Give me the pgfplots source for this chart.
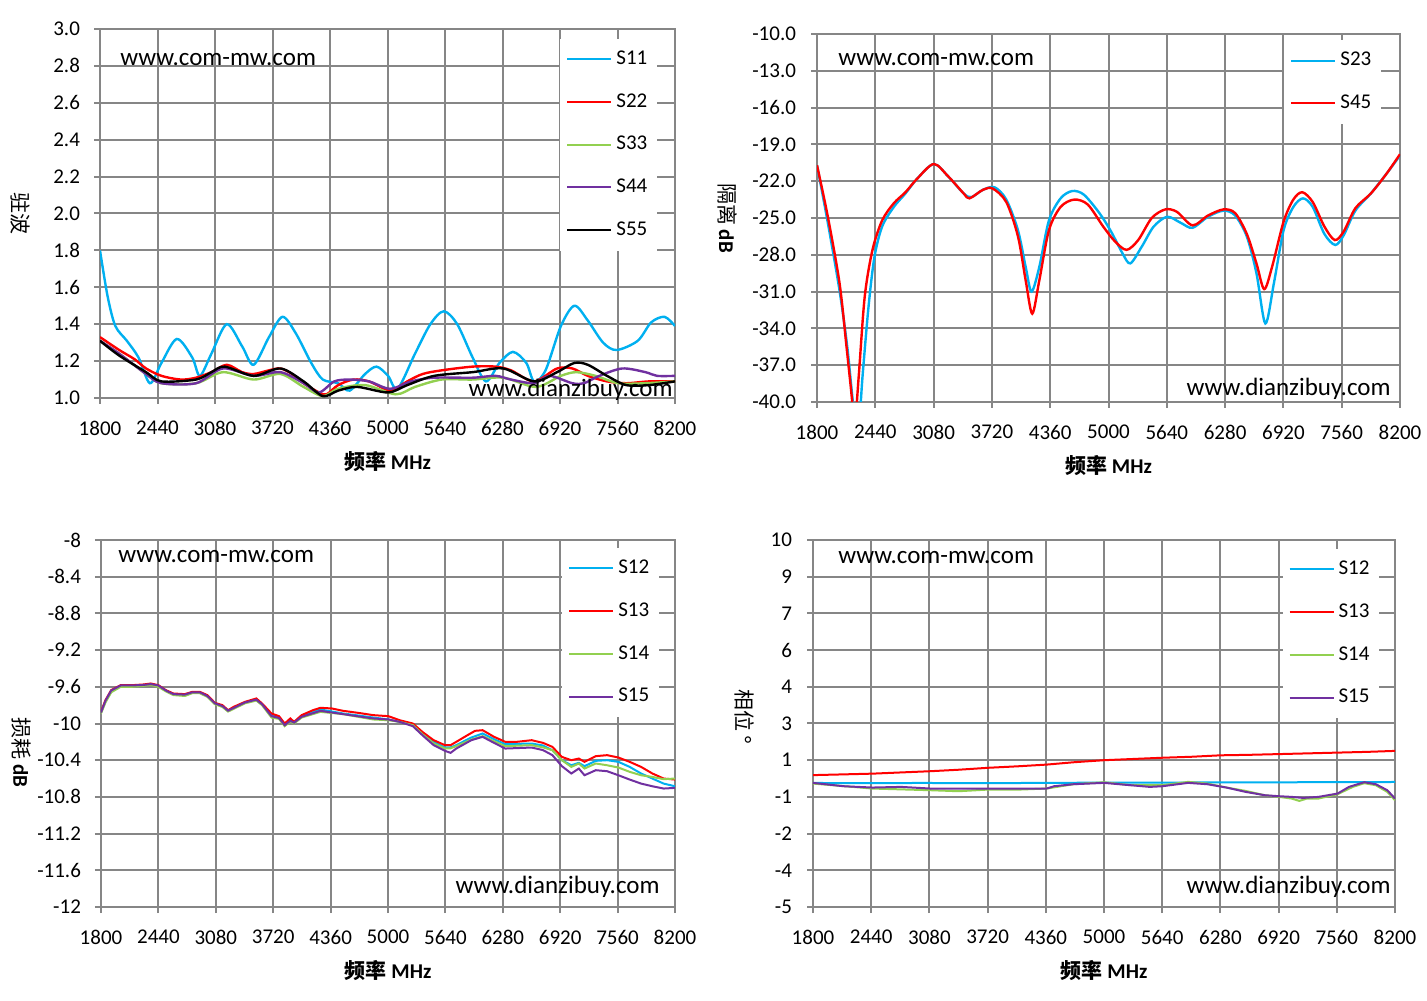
\documentclass[border=0pt]{standalone}
\usepackage{pgfplots}
\pgfplotsset{compat=1.18}
\usepackage{fontspec}
\setmainfont{Carlito}
\newfontfamily\cjk{Noto Sans CJK SC}
\definecolor{cblue}{HTML}{00B0F0}
\definecolor{cred}{HTML}{FF0000}
\definecolor{cgreen}{HTML}{92D050}
\definecolor{cpurple}{HTML}{7030A0}
\definecolor{gridgray}{HTML}{868686}
\newcommand{\tfont}{\fontsize{10.5}{12}\selectfont}
\newcommand{\wfont}{\fontsize{12.5}{14}\selectfont}
\pgfplotsset{
  base/.style={
    scale only axis, anchor=south west,
    xmin=1800, xmax=8200,
    xtick={1800,2440,3080,3720,4360,5000,5640,6280,6920,7560,8200},
    xticklabels={1800,2440,3080,3720,4360,5000,5640,6280,6920,7560,8200},
    grid=major,
    major grid style={draw=gridgray, line width=1pt},
    axis line style={draw=gridgray, line width=1pt},
    every tick/.style={draw=gridgray, line width=1pt},
    tick align=outside, major tick length=3pt,
    xtick pos=left, ytick pos=left,
    ticklabel style={font=\tfont, text=black},
    xticklabel style={yshift=-5pt},
    yticklabel style={xshift=-3.5pt},
    legend style={draw=none, fill=white, font=\tfont, anchor=north west, row sep=9.1pt, inner xsep=3pt, inner ysep=4pt},
    legend cell align=left,
    legend image code/.code={\draw[##1, line width=1pt] (0pt,0pt) -- (22pt,0pt);},
    xlabel={{\cjk\bfseries 频率} \textbf{MHz}},
    xlabel style={font=\tfont, at={(axis description cs:0.5,-0.173)}, anchor=center},
    ylabel style={font=\tfont, rotate=180, anchor=center},
  },
}
\begin{document}
\begin{tikzpicture}
\useasboundingbox (0,0) rectangle (713.5pt,500pt);
% ---------------- top left: VSWR
\begin{axis}[base, at={(50pt,301pt)}, width=287.5pt, height=184.5pt,
  ymin=1, ymax=3, ytick={1,1.2,...,3.01},
  yticklabels={1.0,1.2,1.4,1.6,1.8,2.0,2.2,2.4,2.6,2.8,3.0},
  ylabel={{\cjk 驻波}},
  ylabel style={at={(axis description cs:-0.139,0.5)}},
  legend style={at={(axis description cs:0.80,0.975)}},
  every axis plot/.append style={line width=1.2pt, smooth, tension=0.5}]
\addplot[cblue] coordinates {(1800,1.80)(1885,1.55)(1971,1.39)(2099,1.31)(2228,1.22)(2356,1.08)(2484,1.19)(2655,1.32)(2826,1.22)(2912,1.12)(3040,1.24)(3211,1.40)(3382,1.28)(3510,1.18)(3681,1.33)(3831,1.44)(3980,1.35)(4151,1.19)(4280,1.10)(4450,1.08)(4579,1.04)(4750,1.13)(4878,1.17)(5006,1.12)(5113,1.05)(5306,1.24)(5477,1.40)(5626,1.47)(5776,1.40)(5947,1.22)(6096,1.09)(6246,1.19)(6396,1.25)(6545,1.19)(6631,1.09)(6759,1.15)(6930,1.39)(7080,1.50)(7229,1.42)(7400,1.30)(7550,1.26)(7785,1.31)(7935,1.41)(8084,1.44)(8200,1.39)};
\addlegendentry{S11}
\addplot[cred] coordinates {(1800,1.33)(2014,1.26)(2185,1.21)(2313,1.16)(2484,1.12)(2698,1.10)(2869,1.11)(3040,1.14)(3211,1.18)(3382,1.14)(3510,1.13)(3681,1.15)(3809,1.16)(3938,1.13)(4066,1.08)(4237,1.03)(4322,1.02)(4451,1.07)(4622,1.10)(4793,1.09)(4964,1.05)(5049,1.04)(5220,1.09)(5391,1.13)(5605,1.15)(5947,1.17)(6203,1.17)(6374,1.15)(6631,1.09)(6887,1.16)(7058,1.16)(7229,1.12)(7443,1.09)(7657,1.08)(7913,1.09)(8200,1.09)};
\addlegendentry{S22}
\addplot[cgreen] coordinates {(1800,1.31)(2014,1.24)(2313,1.13)(2484,1.08)(2869,1.08)(3168,1.14)(3510,1.10)(3809,1.13)(4066,1.06)(4280,1.01)(4451,1.05)(4750,1.07)(5092,1.02)(5306,1.06)(5605,1.10)(5947,1.10)(6289,1.11)(6652,1.06)(6930,1.12)(7101,1.14)(7315,1.12)(7571,1.08)(7871,1.08)(8200,1.09)};
\addlegendentry{S33}
\addplot[cpurple] coordinates {(1800,1.31)(2014,1.24)(2313,1.13)(2484,1.08)(2869,1.08)(3168,1.16)(3510,1.12)(3809,1.14)(4066,1.08)(4237,1.03)(4408,1.09)(4579,1.10)(4793,1.09)(5028,1.05)(5263,1.09)(5519,1.11)(5947,1.11)(6203,1.12)(6374,1.10)(6631,1.08)(6802,1.12)(7058,1.08)(7187,1.08)(7358,1.12)(7614,1.16)(7871,1.14)(7999,1.12)(8200,1.12)};
\addlegendentry{S44}
\addplot[black] coordinates {(1800,1.31)(2014,1.23)(2313,1.14)(2484,1.09)(2869,1.10)(3040,1.14)(3189,1.17)(3510,1.12)(3809,1.16)(4066,1.09)(4280,1.01)(4451,1.04)(4664,1.06)(5006,1.03)(5220,1.07)(5519,1.12)(5947,1.14)(6289,1.16)(6631,1.09)(6887,1.14)(7080,1.19)(7229,1.18)(7443,1.12)(7657,1.07)(7913,1.07)(8200,1.09)};
\addlegendentry{S55}
\end{axis}
% ---------------- top right: isolation
\begin{axis}[base, at={(408.5pt,299pt)}, width=291.5pt, height=184pt,
  ymin=-40, ymax=-10, ytick={-40,-37,...,-10},
  yticklabels={-40.0,-37.0,-34.0,-31.0,-28.0,-25.0,-22.0,-19.0,-16.0,-13.0,-10.0},
  yticklabel style={xshift=-0.5pt},
  ylabel={{\cjk 隔离} \textbf{dB}},
  ylabel style={at={(axis description cs:-0.154,0.5)}},
  legend style={at={(axis description cs:0.801,0.984)}},
  every axis plot/.append style={line width=1.2pt, smooth, tension=0.5}]
\addplot[cblue] coordinates {(1800,-20.7)(1919,-25.4)(2047,-30.9)(2132,-35.5)(2196,-40.1)(2251,-42.5)(2302,-37.7)(2366,-32.2)(2430,-28.2)(2515,-25.7)(2643,-24.1)(2771,-23.0)(2899,-21.8)(3082,-20.6)(3239,-21.6)(3410,-23.0)(3495,-23.3)(3622,-22.7)(3750,-22.5)(3878,-23.5)(4006,-26.0)(4091,-29.0)(4155,-31.0)(4240,-29.0)(4346,-25.2)(4474,-23.4)(4602,-22.8)(4730,-23.1)(4900,-24.6)(5028,-26.1)(5155,-27.9)(5240,-28.7)(5368,-27.3)(5496,-25.7)(5645,-24.9)(5794,-25.4)(5922,-25.8)(6092,-24.9)(6262,-24.4)(6390,-24.8)(6518,-26.5)(6624,-29.5)(6722,-33.6)(6816,-30.3)(6922,-26.0)(7029,-24.1)(7135,-23.4)(7242,-24.1)(7370,-26.3)(7489,-27.2)(7582,-26.4)(7710,-24.4)(7880,-23.0)(8051,-21.4)(8200,-19.9)};
\addlegendentry{S23}
\addplot[cred] coordinates {(1800,-20.7)(1919,-24.9)(2047,-30.3)(2124,-35.5)(2188,-40.1)(2209,-42.5)(2260,-37.7)(2324,-31.4)(2409,-27.6)(2515,-25.2)(2643,-23.8)(2771,-22.9)(2899,-21.8)(3082,-20.6)(3239,-21.6)(3410,-23.0)(3474,-23.4)(3622,-22.7)(3729,-22.6)(3878,-23.7)(4006,-26.5)(4091,-30.1)(4163,-32.8)(4240,-30.1)(4346,-26.0)(4474,-24.1)(4623,-23.5)(4772,-23.9)(4942,-25.7)(5070,-26.9)(5198,-27.6)(5326,-26.8)(5475,-25.0)(5624,-24.3)(5751,-24.5)(5922,-25.6)(6092,-24.8)(6262,-24.3)(6390,-24.6)(6518,-26.3)(6624,-28.7)(6709,-30.8)(6795,-29.0)(6922,-25.3)(7029,-23.5)(7127,-22.9)(7242,-23.7)(7370,-25.7)(7484,-26.8)(7582,-26.1)(7710,-24.2)(7880,-23.0)(8051,-21.4)(8200,-19.8)};
\addlegendentry{S45}
\end{axis}
% ---------------- bottom left: insertion loss
\begin{axis}[base, at={(50.5pt,46.5pt)}, width=287pt, height=183.5pt,
  ymin=-12, ymax=-8, ytick={-12,-11.6,...,-7.99},
  yticklabels={-12,-11.6,-11.2,-10.8,-10.4,-10,-9.6,-9.2,-8.8,-8.4,-8},
  ylabel={{\cjk 损耗} \textbf{dB}},
  ylabel style={at={(axis description cs:-0.139,0.42)}},
  legend style={at={(axis description cs:0.803,0.980)}},
  every axis plot/.append style={line width=1pt}]
\addplot[cblue] coordinates {(1800,-9.88)(1850,-9.76)(1914,-9.65)(2019,-9.59)(2145,-9.59)(2271,-9.58)(2355,-9.57)(2439,-9.59)(2523,-9.64)(2607,-9.68)(2734,-9.69)(2818,-9.66)(2902,-9.66)(2986,-9.70)(3070,-9.78)(3154,-9.81)(3217,-9.86)(3280,-9.83)(3406,-9.77)(3532,-9.74)(3596,-9.79)(3701,-9.909)(3785,-9.93)(3848,-10.011)(3911,-9.96)(3953,-9.99)(4037,-9.920)(4247,-9.847)(4500,-9.891)(4836,-9.935)(5004,-9.956)(5130,-9.982)(5277,-10.018)(5383,-10.109)(5509,-10.2)(5635,-10.262)(5698,-10.26)(5761,-10.236)(5929,-10.153)(6055,-10.109)(6182,-10.171)(6308,-10.225)(6602,-10.218)(6728,-10.24)(6833,-10.291)(6939,-10.4)(7044,-10.455)(7128,-10.429)(7191,-10.465)(7317,-10.407)(7443,-10.4)(7569,-10.418)(7695,-10.473)(7822,-10.545)(7948,-10.6)(8074,-10.655)(8200,-10.684)};
\addlegendentry{S12}
\addplot[cred] coordinates {(1800,-9.873)(1850,-9.745)(1914,-9.636)(2019,-9.582)(2145,-9.582)(2271,-9.575)(2355,-9.564)(2439,-9.582)(2523,-9.636)(2607,-9.673)(2734,-9.680)(2818,-9.655)(2902,-9.655)(2986,-9.691)(3070,-9.775)(3154,-9.800)(3217,-9.855)(3280,-9.818)(3406,-9.764)(3532,-9.727)(3596,-9.782)(3701,-9.891)(3785,-9.920)(3848,-10.0)(3911,-9.945)(3953,-9.982)(4037,-9.909)(4163,-9.855)(4247,-9.829)(4373,-9.836)(4500,-9.862)(4668,-9.884)(4836,-9.909)(5004,-9.920)(5130,-9.964)(5277,-10.0)(5383,-10.091)(5509,-10.182)(5635,-10.236)(5698,-10.236)(5761,-10.2)(5887,-10.127)(5971,-10.080)(6055,-10.073)(6182,-10.145)(6308,-10.2)(6434,-10.2)(6602,-10.182)(6728,-10.211)(6833,-10.255)(6939,-10.364)(7044,-10.4)(7128,-10.382)(7191,-10.418)(7317,-10.356)(7443,-10.345)(7569,-10.371)(7695,-10.418)(7822,-10.473)(7948,-10.545)(8074,-10.6)(8200,-10.611)};
\addlegendentry{S13}
\addplot[cgreen] coordinates {(1800,-9.89)(1850,-9.77)(1914,-9.66)(2019,-9.60)(2145,-9.60)(2271,-9.59)(2355,-9.58)(2439,-9.60)(2523,-9.65)(2607,-9.69)(2734,-9.70)(2818,-9.67)(2902,-9.67)(2986,-9.71)(3070,-9.79)(3154,-9.82)(3217,-9.87)(3280,-9.84)(3406,-9.78)(3532,-9.75)(3596,-9.80)(3701,-9.935)(3785,-9.95)(3848,-10.029)(3911,-9.98)(3953,-10.0)(4037,-9.935)(4247,-9.873)(4500,-9.898)(4836,-9.956)(5004,-9.964)(5130,-9.982)(5277,-10.018)(5383,-10.116)(5509,-10.218)(5635,-10.273)(5698,-10.27)(5761,-10.247)(5929,-10.175)(6055,-10.138)(6182,-10.193)(6308,-10.247)(6602,-10.236)(6728,-10.26)(6833,-10.291)(6939,-10.4)(7044,-10.473)(7128,-10.436)(7191,-10.491)(7317,-10.436)(7443,-10.455)(7569,-10.48)(7695,-10.527)(7822,-10.564)(7948,-10.582)(8074,-10.607)(8200,-10.6)};
\addlegendentry{S14}
\addplot[cpurple] coordinates {(1800,-9.88)(1850,-9.75)(1914,-9.64)(2019,-9.585)(2145,-9.585)(2271,-9.58)(2355,-9.57)(2439,-9.585)(2523,-9.64)(2607,-9.68)(2734,-9.685)(2818,-9.66)(2902,-9.66)(2986,-9.70)(3070,-9.78)(3154,-9.81)(3217,-9.86)(3280,-9.83)(3406,-9.77)(3532,-9.74)(3596,-9.79)(3701,-9.920)(3785,-9.94)(3848,-10.018)(3911,-9.97)(3953,-9.99)(4037,-9.927)(4247,-9.862)(4500,-9.898)(4836,-9.945)(5004,-9.956)(5130,-9.982)(5277,-10.029)(5383,-10.127)(5509,-10.236)(5635,-10.298)(5698,-10.32)(5761,-10.273)(5929,-10.182)(6055,-10.145)(6182,-10.211)(6308,-10.273)(6602,-10.262)(6728,-10.29)(6833,-10.345)(6939,-10.465)(7044,-10.545)(7128,-10.491)(7191,-10.564)(7317,-10.509)(7443,-10.52)(7569,-10.564)(7695,-10.611)(7822,-10.655)(7948,-10.684)(8074,-10.709)(8200,-10.702)};
\addlegendentry{S15}
\end{axis}
% ---------------- bottom right: phase
\begin{axis}[base, at={(406.5pt,46.5pt)}, width=291pt, height=183.5pt,
  ymin=-5, ymax=10, ytick={-5,-3.5,...,10.01},
  yticklabels={-5,-4,-2,-1,1,3,4,6,7,9,10},
  yticklabel style={xshift=-0.5pt},
  ylabel={{\cjk 相位} °},
  ylabel style={at={(axis description cs:-0.117,0.518)}},
  legend style={at={(axis description cs:0.806,0.977)}},
  every axis plot/.append style={line width=1pt}]
\addplot[cblue] coordinates {(1800,0.07)(2400,0.06)(3000,0.07)(3600,0.06)(4200,0.07)(4800,0.08)(5400,0.08)(6000,0.09)(6600,0.09)(7200,0.10)(7800,0.10)(8200,0.11)};
\addlegendentry{S12}
\addplot[cred] coordinates {(1800,0.39)(2130,0.42)(2453,0.45)(2770,0.50)(3092,0.55)(3400,0.61)(3728,0.69)(4050,0.75)(4368,0.82)(4680,0.92)(5000,1.0)(5320,1.05)(5640,1.1)(5960,1.14)(6284,1.2)(6600,1.22)(6928,1.25)(7250,1.28)(7568,1.31)(7890,1.34)(8200,1.38)};
\addlegendentry{S13}
\addplot[cgreen] coordinates {(1800,0.045)(2453,-0.159)(3092,-0.227)(3400,-0.268)(3728,-0.2)(4073,-0.2)(4368,-0.159)(4663,0.018)(5000,0.1)(5294,-0.023)(5640,-0.023)(5926,0.114)(6136,0.045)(6347,-0.118)(6557,-0.255)(6768,-0.432)(6928,-0.5)(7063,-0.568)(7147,-0.664)(7231,-0.568)(7357,-0.568)(7568,-0.391)(7736,-0.091)(7862,0.06)(7989,-0.023)(8115,-0.295)(8200,-0.636)};
\addlegendentry{S14}
\addplot[cpurple] coordinates {(1800,0.073)(2137,-0.064)(2453,-0.118)(2768,-0.091)(3092,-0.159)(3400,-0.159)(3728,-0.159)(4073,-0.159)(4368,-0.159)(4452,-0.064)(4663,0.018)(5000,0.073)(5294,-0.023)(5505,-0.091)(5640,-0.064)(5926,0.073)(6136,0.018)(6347,-0.118)(6557,-0.295)(6768,-0.432)(6928,-0.473)(7063,-0.5)(7189,-0.541)(7357,-0.5)(7568,-0.364)(7694,-0.091)(7862,0.1)(7989,0.018)(8115,-0.227)(8200,-0.568)};
\addlegendentry{S15}
\end{axis}
% ---------------- watermarks
\node[font=\wfont, anchor=west, inner sep=0pt] at (60pt,470pt) {www.com-mw.com};
\node[font=\wfont, anchor=east, inner sep=0pt] at (336.5pt,305pt) {www.dianzibuy.com};
\node[font=\wfont, anchor=west, inner sep=0pt] at (419pt,470pt) {www.com-mw.com};
\node[font=\wfont, anchor=east, inner sep=0pt] at (695.5pt,305.5pt) {www.dianzibuy.com};
\node[font=\wfont, anchor=west, inner sep=0pt] at (59pt,221.5pt) {www.com-mw.com};
\node[font=\wfont, anchor=east, inner sep=0pt] at (330pt,56.5pt) {www.dianzibuy.com};
\node[font=\wfont, anchor=west, inner sep=0pt] at (419pt,221pt) {www.com-mw.com};
\node[font=\wfont, anchor=east, inner sep=0pt] at (695.5pt,56.5pt) {www.dianzibuy.com};
\end{tikzpicture}
\end{document}
